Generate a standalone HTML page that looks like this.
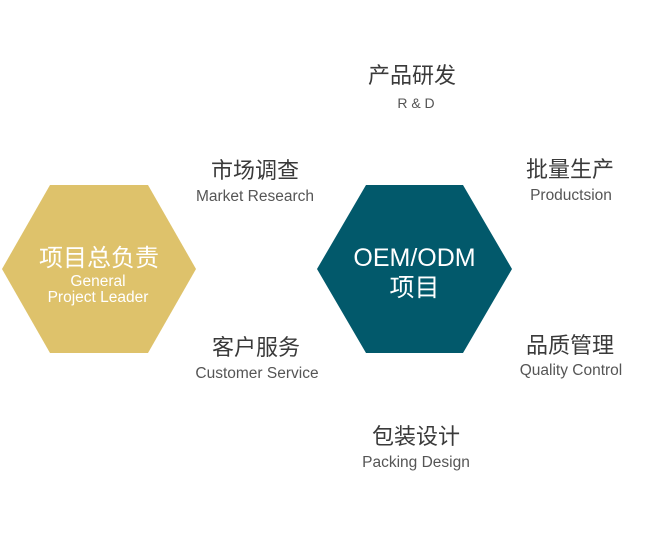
<!DOCTYPE html>
<html><head><meta charset="utf-8"><style>
body{margin:0;width:672px;height:536px;background:#fff;position:relative;overflow:hidden;font-family:"Liberation Sans","Noto Sans CJK SC",sans-serif}
.t{position:absolute;text-align:center;white-space:nowrap}
.c{font-size:22px;color:#3a3a3a;line-height:26px}
.e{font-size:15.5px;color:#555;line-height:18px}
</style></head><body>
<svg width="672" height="536" style="position:absolute;left:0;top:0">
<polygon points="50,185 148,185 196,269 148,353 50,353 2,269" fill="#dec26b"/>
<polygon points="366,185 463,185 512,269 463,353 366,353 317,269" fill="#02596b"/>
</svg>
<div class="t" style="left:0;width:198px;top:245px;color:#fff;font-size:24px;line-height:28px">项目总负责</div>
<div class="t e" style="left:0;width:196px;top:274px;color:#fff;line-height:16px">General<br>Project Leader</div>
<div class="t" style="left:317px;width:195px;top:243px;color:#fff;font-size:25px;line-height:30px">OEM/ODM<br>项目</div>
<div class="t c" style="left:312px;width:200px;top:63px">产品研发</div>
<div class="t e" style="left:316px;width:200px;top:94px;font-size:14px">R &amp; D</div>
<div class="t c" style="left:155px;width:200px;top:158px">市场调查</div>
<div class="t e" style="left:155px;width:200px;top:188px">Market Research</div>
<div class="t c" style="left:470px;width:200px;top:157px">批量生产</div>
<div class="t e" style="left:471px;width:200px;top:187px">Productsion</div>
<div class="t c" style="left:156px;width:200px;top:335px">客户服务</div>
<div class="t e" style="left:157px;width:200px;top:365px">Customer Service</div>
<div class="t c" style="left:470px;width:200px;top:333px">品质管理</div>
<div class="t e" style="left:471px;width:200px;top:362px">Quality Control</div>
<div class="t c" style="left:316px;width:200px;top:424px">包装设计</div>
<div class="t e" style="left:316px;width:200px;top:454px">Packing Design</div>
</body></html>
